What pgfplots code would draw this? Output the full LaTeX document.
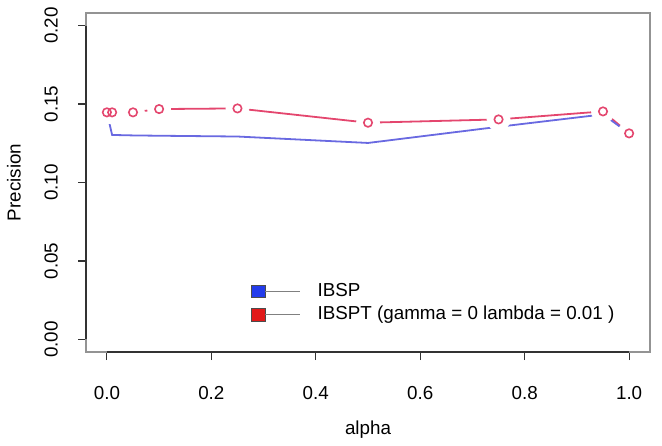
\documentclass[border=0pt]{standalone}
\usepackage{pgfplots}
\usepackage{pgfplotstable}
\pgfplotsset{compat=1.18}
\usepackage{fontspec}
\setmainfont{Liberation Sans}

\definecolor{ibspline}{RGB}{105,105,225}
\definecolor{ibsptline}{RGB}{228,70,110}
\definecolor{ibspfill}{RGB}{35,60,235}
\definecolor{ibsptfill}{RGB}{225,25,25}

% precision against alpha
\pgfplotstableread{
alpha  prec
0.00   0.1447
0.01   0.1303
0.05   0.1300
0.10   0.1298
0.25   0.1293
0.50   0.1252
0.75   0.1355
0.95   0.1434
1.00   0.1313
}\ibsp
\pgfplotstableread{
alpha  prec
0.00   0.1447
0.01   0.1447
0.05   0.1447
0.10   0.1468
0.25   0.1472
0.50   0.1381
0.75   0.1402
0.95   0.1453
1.00   0.1313
}\ibspt

\begin{document}
\fontsize{9.4}{11.3}\selectfont
\begin{tikzpicture}
\useasboundingbox (-43pt,-46.5pt) rectangle (288pt,176pt);
\begin{axis}[
  scale only axis, width=282pt, height=169.5pt,
  at={(0,0)}, anchor=south west,
  xmin=-0.04, xmax=1.04, ymin=-0.008, ymax=0.208,
  clip=false,
  axis line style={draw=gray!85, line width=0.6pt},
  xtick={0,0.2,0.4,0.6,0.8,1}, ytick={0,0.05,0.1,0.15,0.2},
  xticklabels={0.0,0.2,0.4,0.6,0.8,1.0},
  yticklabels={0.00,0.05,0.10,0.15,0.20},
  tick align=outside, major tick length=4pt,
  tick style={black!80, line width=0.6pt},
  xtick pos=bottom, ytick pos=left,
  xticklabel shift=10pt, yticklabel shift=6.8pt,
  yticklabel style={rotate=90, anchor=south},
  xticklabel style={anchor=north},
  xlabel={alpha}, ylabel={Precision},
  xlabel style={at={(axis description cs:0.5,-0.2301)}, anchor=center},
  ylabel style={at={(axis description cs:-0.1277,0.5)}, anchor=center},
  legend cell align=left,
  legend style={at={(axis description cs:0.292,0.2053)}, anchor=north west,
    draw=none, fill=none, inner sep=0pt, outer sep=0pt,
    row sep=2.65pt, column sep=8.35pt,
    nodes={inner sep=0pt, text height=7pt, text depth=2pt}},
]
% axis lines over the tick range
\draw[black!80, line width=0.6pt] (axis cs:0,-0.008) -- (axis cs:1,-0.008);
\draw[black!80, line width=0.6pt] (axis cs:-0.04,0) -- (axis cs:-0.04,0.2);

% IBSPT line, broken around its points
\addplot[ibsptline, line width=0.9pt, forget plot] table[x=alpha, y=prec] {\ibspt};
\addplot[only marks, mark=*, mark size=5.75pt, white, forget plot] table[x=alpha, y=prec] {\ibspt};
% IBSP line
\addplot[ibspline, line width=0.9pt, forget plot] table[x=alpha, y=prec] {\ibsp};
% IBSPT points
\addplot[only marks, mark=o, mark size=2.1pt, ibsptline, mark options={line width=0.8pt}, forget plot] table[x=alpha, y=prec] {\ibspt};

\addlegendimage{legend image code/.code={
  \draw[fill=ibspfill, draw=black!70, line width=0.4pt] (0pt,-3.2pt) rectangle (7pt,3.2pt);
  \draw[gray, line width=0.6pt] (7pt,0pt) -- (24.6pt,0pt);
}}
\addlegendentry{IBSP}
\addlegendimage{legend image code/.code={
  \draw[fill=ibsptfill, draw=black!70, line width=0.4pt] (0pt,-3.2pt) rectangle (7pt,3.2pt);
  \draw[gray, line width=0.6pt] (7pt,0pt) -- (24.6pt,0pt);
}}
\addlegendentry{IBSPT (gamma = 0 lambda = 0.01 )}
\end{axis}
\end{tikzpicture}
\end{document}
